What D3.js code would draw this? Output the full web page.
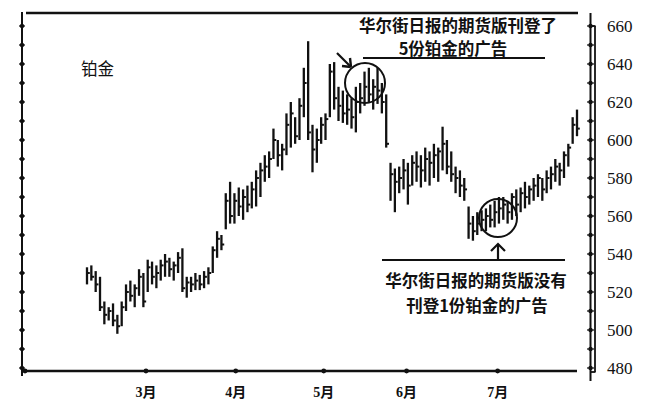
<!DOCTYPE html>
<html><head><meta charset="utf-8">
<script src="https://cdn.jsdelivr.net/npm/d3@7/dist/d3.min.js"></script>
<style>
html,body{margin:0;padding:0;background:#fff;}
svg{display:block;}
</style></head>
<body>
<svg id="c" width="662" height="413"></svg>
<script>
// ---- data ----
const highs = [533,534,531,528,515,512,514,508,515,524,526,524,532,530,537,536,534,537,540,538,536,541,543,528,528,530,529,531,533,544,552,550,572,578,572,575,574,576,578,584,588,592,594,606,600,598,614,620,612,622,638,652,608,606,612,614,640,641,628,626,624,622,628,630,636,638,632,638,630,624,588,585,586,590,588,592,594,592,596,594,598,596,607,600,594,586,584,580,565,560,562,563,564,566,568,570,570,568,572,574,575,578,576,580,582,580,584,586,590,588,594,598,612,616];
const lows  = [524,526,520,510,503,505,502,498,502,510,515,512,518,512,520,524,522,526,528,528,526,530,520,517,520,521,521,522,524,530,538,542,553,556,556,560,558,562,564,565,570,578,580,590,586,584,592,596,598,600,612,600,583,588,598,600,612,616,610,609,608,606,604,614,618,620,616,619,614,596,568,562,572,574,566,576,578,575,578,576,580,578,584,582,578,572,570,568,548,547,550,552,552,554,554,556,558,556,558,560,562,564,566,568,570,568,572,574,578,576,580,586,598,602];
const closes= [530,528,524,512,508,510,505,502,512,520,518,522,528,515,533,528,530,534,536,532,534,538,522,525,524,526,524,528,530,542,548,545,568,560,568,565,570,566,574,580,584,586,590,600,592,595,608,614,602,618,630,604,595,600,608,611,636,622,618,614,616,612,620,622,628,624,628,626,620,598,582,578,580,584,576,588,586,584,590,588,592,594,598,586,582,580,576,574,556,552,556,558,560,558,562,564,566,562,570,566,572,570,574,576,580,574,580,582,586,584,592,596,608,606];
const monthLabels = ["3月","4月","5月","6月","7月"];
const monthPos = [13.6, 34.3, 54.6, 73.7, 94.7];   // bar index where each month starts
const priceTicks = [480,500,520,540,560,580,600,620,640,660];
const minorTicks = d3.range(480, 661, 10);
const titleText = "铂金";
const note1 = ["华尔街日报的期货版刊登了","5份铂金的广告"];
const note2 = ["华尔街日报的期货版没有","刊登1份铂金的广告"];

// ---- scales ----
const svg = d3.select("#c");
const N = highs.length;
const x = d3.scaleLinear().domain([0, N-1]).range([87, 577]);
const y = d3.scaleLinear().domain([480, 660]).range([368, 26]);
const ink = "#111";
const cjk = "'Noto Sans CJK SC','Noto Sans',sans-serif";
const serif = "'Liberation Serif','DejaVu Serif',serif";

// frame lines
svg.append("line").attr("x1",26).attr("x2",578).attr("y1",13).attr("y2",13)
  .attr("stroke",ink).attr("stroke-width",2.6);
svg.append("line").attr("x1",25).attr("x2",577).attr("y1",371).attr("y2",371)
  .attr("stroke",ink).attr("stroke-width",2.6);
// left axis
svg.append("line").attr("x1",22).attr("x2",22).attr("y1",12).attr("y2",376)
  .attr("stroke",ink).attr("stroke-width",2);
const lt = svg.append("g");
minorTicks.forEach(v=>{
  lt.append("circle").attr("cx",22).attr("cy",y(v)).attr("r",2.2).attr("fill",ink);
  lt.append("line").attr("x1",19).attr("x2",25).attr("y1",y(v)).attr("y2",y(v)).attr("stroke",ink).attr("stroke-width",1.2);
});

// right axis (double line)
svg.append("line").attr("x1",590.5).attr("x2",590.5).attr("y1",13).attr("y2",381)
  .attr("stroke",ink).attr("stroke-width",2);
svg.append("line").attr("x1",595).attr("x2",595).attr("y1",y(660)).attr("y2",y(480)+4)
  .attr("stroke",ink).attr("stroke-width",1.8);
svg.append("line").attr("x1",590).attr("x2",595.5).attr("y1",y(660)).attr("y2",y(660)).attr("stroke",ink).attr("stroke-width",1.8);
svg.append("line").attr("x1",590).attr("x2",595.5).attr("y1",y(480)+4).attr("y2",y(480)+4).attr("stroke",ink).attr("stroke-width",1.8);
const rt = svg.append("g");
minorTicks.forEach(v=>{
  rt.append("circle").attr("cx",590.5).attr("cy",y(v)).attr("r",2.2).attr("fill",ink);
  rt.append("line").attr("x1",587).attr("x2",594).attr("y1",y(v)).attr("y2",y(v)).attr("stroke",ink).attr("stroke-width",1.2);
});
const yAxis = d3.axisRight(y).tickValues(priceTicks).tickSize(0).tickPadding(0);
const ya = svg.append("g").attr("transform","translate(607,0)").call(yAxis);
ya.select(".domain").remove();
ya.selectAll("text").attr("font-family",serif).attr("font-size",17).attr("fill",ink)
  .attr("dx",0).attr("dy","0.34em").attr("x",0);

// bottom month ticks
const mg = svg.append("g");
monthPos.forEach((p,i)=>{
  mg.append("circle").attr("cx",x(p)).attr("cy",371).attr("r",2.4).attr("fill",ink);
  mg.append("text").attr("x",x(p)).attr("y",392).attr("text-anchor","middle")
    .attr("dominant-baseline","central")
    .attr("font-family",serif+","+cjk).attr("font-weight","bold").attr("font-size",14).attr("fill",ink)
    .text(monthLabels[i]);
});
mg.append("circle").attr("cx",25).attr("cy",371).attr("r",2.4).attr("fill",ink);

// OHLC bars
const bars = svg.append("g");
d3.range(N).forEach(i=>{
  const xi = x(i);
  bars.append("line").attr("x1",xi).attr("x2",xi).attr("y1",y(highs[i])).attr("y2",y(lows[i]))
    .attr("stroke",ink).attr("stroke-width",2.3);
  bars.append("line").attr("x1",xi).attr("x2",xi+2.8).attr("y1",y(closes[i])).attr("y2",y(closes[i]))
    .attr("stroke",ink).attr("stroke-width",2);
});

// title
svg.append("text").attr("x",81).attr("y",68).attr("dominant-baseline","central")
  .attr("font-family",cjk).attr("font-size",16.5).attr("fill",ink).text(titleText);

// annotation 1
svg.append("text").attr("x",458).attr("y",25).attr("text-anchor","middle").attr("dominant-baseline","central")
  .attr("font-family",cjk).attr("font-weight","bold").attr("font-size",16.5).attr("fill",ink).text(note1[0]);
svg.append("text").attr("x",453).attr("y",48).attr("text-anchor","middle").attr("dominant-baseline","central")
  .attr("font-family",cjk).attr("font-weight","bold").attr("font-size",16.5).attr("fill",ink).text(note1[1]);
svg.append("line").attr("x1",363).attr("x2",545).attr("y1",58).attr("y2",58).attr("stroke",ink).attr("stroke-width",1.8);
svg.append("circle").attr("cx",365).attr("cy",83).attr("r",20).attr("fill","none").attr("stroke",ink).attr("stroke-width",2);
// arrow 1
svg.append("line").attr("x1",337).attr("x2",350).attr("y1",53).attr("y2",66).attr("stroke",ink).attr("stroke-width",2.2);
svg.append("path").attr("d","M351,67 L342,66 M351,67 L350,58").attr("stroke",ink).attr("stroke-width",2.4).attr("fill","none");

// annotation 2
svg.append("circle").attr("cx",498).attr("cy",218).attr("r",19).attr("fill","none").attr("stroke",ink).attr("stroke-width",2);
svg.append("line").attr("x1",498).attr("x2",498).attr("y1",260).attr("y2",244).attr("stroke",ink).attr("stroke-width",2.2);
svg.append("path").attr("d","M491,251 L498,244 L505,251").attr("stroke",ink).attr("stroke-width",2.2).attr("fill","none");
svg.append("line").attr("x1",382).attr("x2",565).attr("y1",260).attr("y2",260).attr("stroke",ink).attr("stroke-width",1.8);
svg.append("text").attr("x",476).attr("y",280).attr("text-anchor","middle").attr("dominant-baseline","central")
  .attr("font-family",cjk).attr("font-weight","bold").attr("font-size",16.5).attr("fill",ink).text(note2[0]);
svg.append("text").attr("x",477).attr("y",305).attr("text-anchor","middle").attr("dominant-baseline","central")
  .attr("font-family",cjk).attr("font-weight","bold").attr("font-size",16.5).attr("fill",ink).text(note2[1]);
</script>
</body></html>
